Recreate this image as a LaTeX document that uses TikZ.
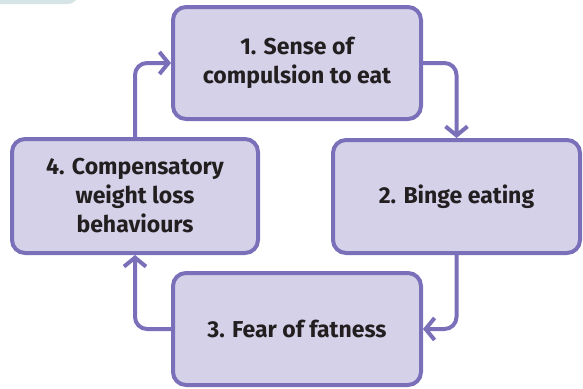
\documentclass[tikz,border=0pt]{standalone}
\usepackage{fontspec}
\setmainfont{Fira Sans}
\usetikzlibrary{arrows.meta}
\definecolor{boxfill}{HTML}{D4D1E9}
\definecolor{boxline}{HTML}{7A6FB9}
\definecolor{txt}{HTML}{231F20}
\definecolor{tab}{HTML}{D5E4E4}
\tikzset{
  stepbox/.style={draw=boxline, fill=boxfill, line width=4pt, rounded corners=13pt,
    align=center, text=txt, font=\fontsize{23}{29}\selectfont\bfseries, inner sep=0pt},
  flow/.style={draw=boxline, line width=4pt, rounded corners=12pt,
    -{Straight Barb[length=9pt,width=22pt]}}
}
\begin{document}
\begin{tikzpicture}[x=1pt,y=-1pt]
\useasboundingbox (0,0) rectangle (583,388);
\fill[tab, rounded corners=10pt] (-30,-30) rectangle (78,4);
\node[stepbox, minimum width=248pt, minimum height=112pt] (b1) at (297,63) {1. Sense of\\compulsion to eat};
\node[stepbox, minimum width=247pt, minimum height=113pt] (b2) at (456.5,196.5) {2. Binge eating};
\node[stepbox, minimum width=248pt, minimum height=112pt] (b3) at (297,329) {3. Fear of fatness};
\node[stepbox, minimum width=246pt, minimum height=114pt] (b4) at (135,196) {4. Compensatory\\weight loss\\behaviours};
\draw[flow] (b1.east) -| (b2.north);
\draw[flow] (b2.south) |- (b3.east);
\draw[flow] (b3.west) -| (b4.south);
\draw[flow] (b4.north) |- (b1.west);
\end{tikzpicture}
\end{document}
